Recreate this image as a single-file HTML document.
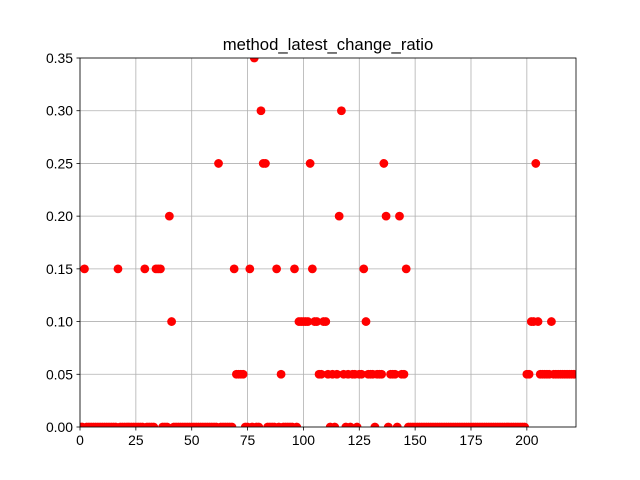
<!DOCTYPE html>
<html><head><meta charset="utf-8"><style>
body{margin:0;background:#fff}
svg{display:block;font-family:"Liberation Sans","DejaVu Sans",sans-serif}
</style></head><body>
<svg id="chart" width="640" height="480" xmlns="http://www.w3.org/2000/svg">
<defs><clipPath id="plotclip"><rect x="80" y="58" width="496" height="369"/></clipPath></defs>
<rect width="640" height="480" fill="#fff"/>
<text x="328" y="50" font-size="16.7" text-anchor="middle" fill="#000">method_latest_change_ratio</text>
<g id="grid"></g><g id="pts" clip-path="url(#plotclip)"></g><g id="axes"></g>
</svg>
<script>
const xTicks=[0,25,50,75,100,125,150,175,200];
const yTicks=[0,0.05,0.10,0.15,0.20,0.25,0.30,0.35];
const yTickLabels=["0.00","0.05","0.10","0.15","0.20","0.25","0.30","0.35"];
const ratioValues=[
0,0,.15,0,0,0,0,0,0,0, 0,0,0,0,0,0,0,.15,0,0, 0,0,0,0,0,0,0,0,0,.15,
0,0,0,0,.15,.15,.15,0,0,0, .2,.1,0,0,0,0,0,0,0,0, 0,0,0,0,0,0,0,0,0,0,
0,0,.25,0,0,0,0,0,0,.15, .05,.05,.05,.05,0,0,.15,0,.35,0, 0,.3,.25,.25,0,0,0,0,.15,0,
.05,0,0,0,0,0,.15,0,.1,.1, .1,.1,.1,.25,.15,.1,.1,.05,.05,.1, .1,.05,0,.05,0,.05,.2,.3,.05,0,
.05,0,.05,.05,0,.05,.05,.15,.1,.05, .05,.05,0,.05,.05,.05,.25,.2,0,.05, .05,.05,0,.2,.05,.05,.15,0,0,0,
0,0,0,0,0,0,0,0,0,0, 0,0,0,0,0,0,0,0,0,0, 0,0,0,0,0,0,0,0,0,0,
0,0,0,0,0,0,0,0,0,0, 0,0,0,0,0,0,0,0,0,0, .05,.05,.1,.1,.25,.1,.05,.05,.05,.05,
.05,.1,.05,.05,.05,.05,.05,.05,.05,.05, .05,.05
];
const L=80,R=576,T=58,B=427,XMAX=222,YMAX=0.35;
const xs=v=>L+(v/XMAX)*(R-L);
const ys=v=>B-(v/YMAX)*(B-T);
const NS="http://www.w3.org/2000/svg";
function mk(tag,attrs,parent){const e=document.createElementNS(NS,tag);for(const k in attrs)e.setAttribute(k,attrs[k]);parent.appendChild(e);return e;}
const grid=document.getElementById('grid'),pts=document.getElementById('pts'),axes=document.getElementById('axes');
xTicks.forEach(t=>{
  const x=xs(t);
  const g=mk('line',{x1:x,x2:x,y1:T,y2:B,stroke:'#b0b0b0','stroke-width':0.8},grid);
  
  
  mk('line',{x1:x,x2:x,y1:B,y2:B+3.5,stroke:'#000','stroke-width':0.8},axes);
  const tx=mk('text',{x:x,y:B+18,'font-size':13.9,'text-anchor':'middle'},axes);
  tx.textContent=t;
  
  
});
yTicks.forEach((t,i)=>{
  const y=ys(t);
  const g=mk('line',{x1:L,x2:R,y1:y,y2:y,stroke:'#b0b0b0','stroke-width':0.8},grid);
  
  
  mk('line',{x1:L-3.5,x2:L,y1:y,y2:y,stroke:'#000','stroke-width':0.8},axes);
  const tx=mk('text',{x:L-7,y:y+5,'font-size':13.9,'text-anchor':'end'},axes);
  tx.textContent=yTickLabels[i];
  
  
});
ratioValues.forEach((v,i)=>{
  const c=mk('circle',{cx:xs(i),cy:ys(v),r:4.4,fill:'#ff0000'},pts);
  
  
});
const fr=mk('rect',{x:L,y:T,width:R-L,height:B-T,fill:'none',stroke:'#000','stroke-width':0.8},axes);


</script>
</body></html>
